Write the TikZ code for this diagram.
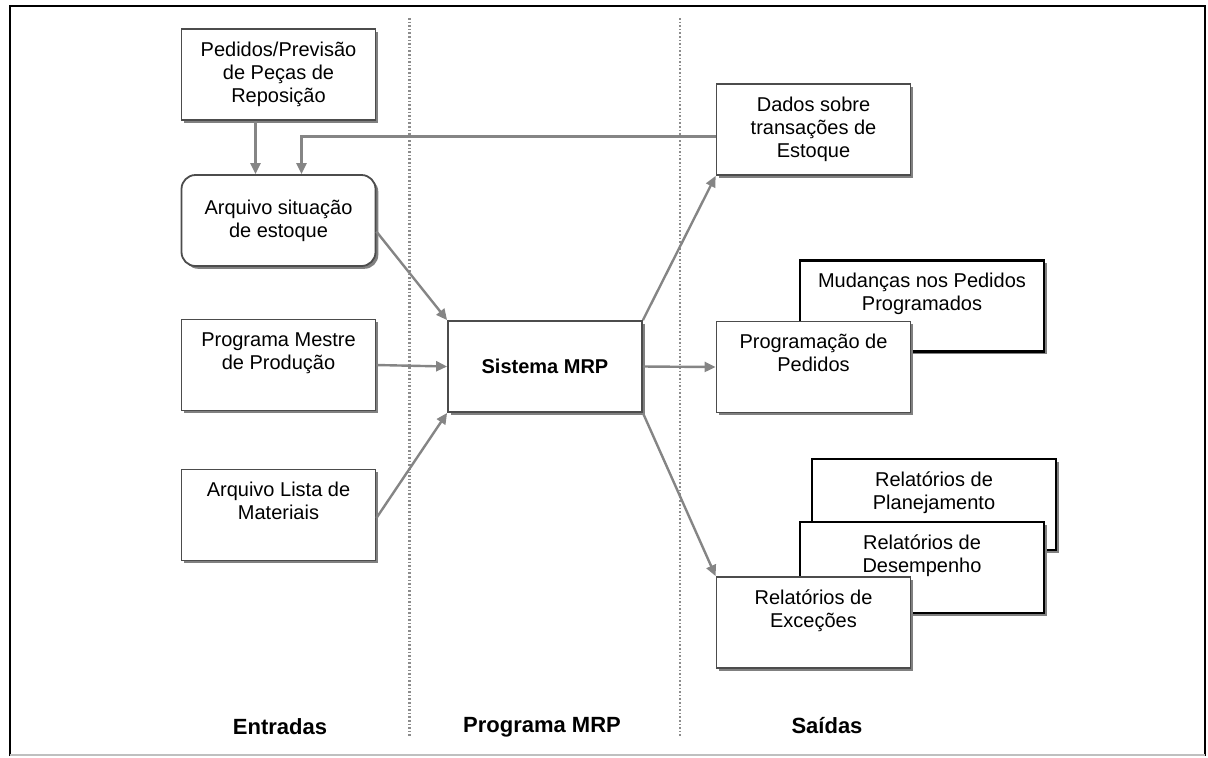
\documentclass[tikz,border=0pt]{standalone}
\usepackage{fontspec}
\setmainfont{Liberation Sans}
\usetikzlibrary{arrows.meta,shadows}

\begin{document}
\begin{tikzpicture}[
    x=0.5pt, y=-0.5pt,
    >={Triangle[length=5.5pt,width=5pt]},
    font=\fontsize{10}{11.5}\selectfont,
    mrpbox/.style = {
      draw = black!70,
      line width = 0.9pt,
      fill = white,
      align = center,
      inner sep = 2pt,
      minimum width = 97pt,
      minimum height = 45.5pt,
      drop shadow = {shadow xshift=1.4pt, shadow yshift=-1.4pt, fill=black!50, opacity=1}
    },
    backbox/.style = {
      mrpbox,
      draw = black,
      line width = 1.4pt,
      minimum width = 122pt
    },
    topalign/.style = {text depth = 14pt},
    flow/.style = {->, draw = black!48, line width = 1.2pt},
    divider/.style = {draw = black!45, line width = 1.1pt, dash pattern = on 0.8pt off 1pt},
    coltitle/.style = {font = \fontsize{11}{13}\selectfont\bfseries}
  ]
  \useasboundingbox (0,0) rectangle (1208,757);

  \draw[line width=0.9pt] (10,756) -- (10,6) -- (1205,6) -- (1205,756);
  \draw[black!25, line width=0.8pt] (10,755) -- (1205,755);

  \draw[divider] (409.5,18) -- (409.5,737);
  \draw[divider] (680,18) -- (680,737);

  \node (ped)   at (278.5,74.5) [mrpbox] {Pedidos/Previsão\\de Peças de\\Reposição};
  \node (arq)   at (278.5,220.5) [mrpbox, rounded corners=7pt] {Arquivo situação\\de estoque};
  \node (pmp)   at (278.5,365) [mrpbox, topalign] {Programa Mestre\\de Produção};
  \node (lista) at (278.5,515) [mrpbox, topalign] {Arquivo Lista de\\Materiais};

  \node (mrp)   at (545,366.5) [mrpbox] {\textbf{Sistema MRP}};

  \node (dados) at (813.5,129.5) [mrpbox] {Dados sobre\\transações de\\Estoque};
  \node (mud)   at (922,306) [backbox, topalign] {Mudanças nos Pedidos\\Programados};
  \node (prog)  at (813.5,367) [mrpbox, topalign] {Programação de\\Pedidos};
  \node (plan)  at (934,504.5) [backbox, topalign] {Relatórios de\\Planejamento};
  \node (des)   at (922,567.5) [backbox, topalign] {Relatórios de\\Desempenho};
  \node (exc)   at (813.5,622.5) [mrpbox, topalign] {Relatórios de\\Exceções};

  \draw[flow] ([xshift=-11.5pt]ped.south) -- ([xshift=-11.5pt]arq.north);
  \draw[flow] ([yshift=-3.5pt]dados.west) -| ([xshift=11.5pt]arq.north);
  \draw[flow] ([yshift=-5.5pt]arq.east) -- (mrp.north west);
  \draw[flow] (pmp.east) -- (mrp.west);
  \draw[flow] ([yshift=-1.5pt]lista.east) -- (mrp.south west);
  \draw[flow] (mrp.north east) -- (dados.south west);
  \draw[flow] (mrp.east) -- (prog.west);
  \draw[flow] (mrp.south east) -- (exc.north west);

  \node (entradas) at (280,727) [coltitle] {Entradas};
  \node (programa) at (542,727) [coltitle] {Programa MRP};
  \node (saidas)   at (827,726) [coltitle] {Saídas};
\end{tikzpicture}
\end{document}
